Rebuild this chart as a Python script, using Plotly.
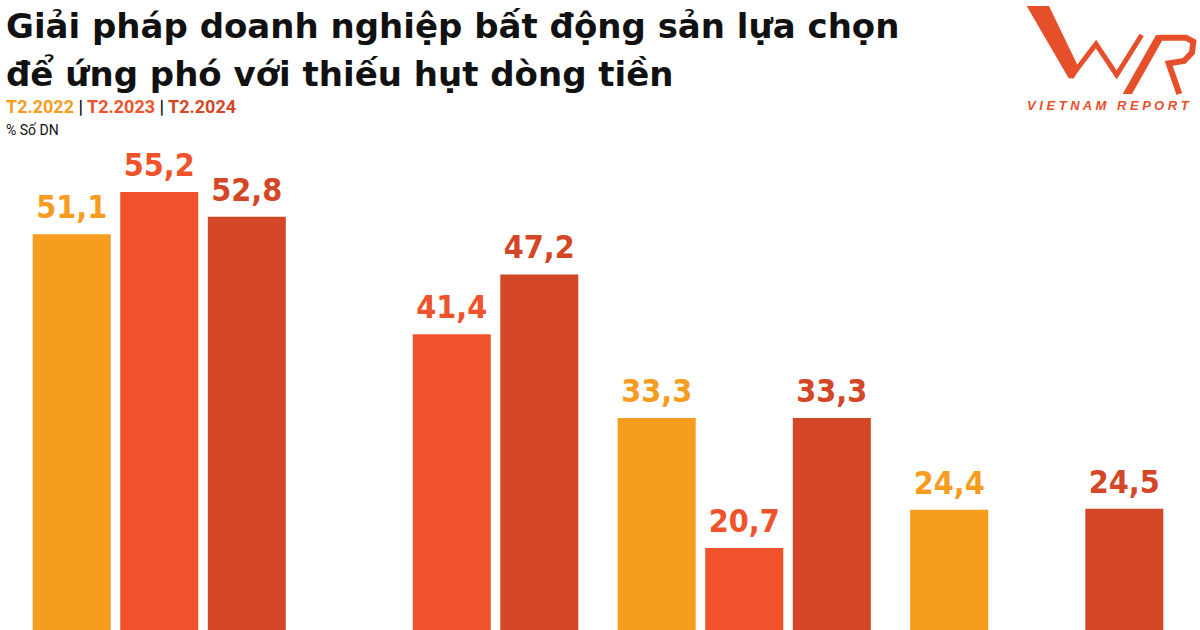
import plotly.graph_objects as go

# ---------------- data ----------------
categories = ["Giải pháp 1", "Giải pháp 2", "Giải pháp 3", "Giải pháp 4"]
series_names = ["T2.2022", "T2.2023", "T2.2024"]
v2022 = [51.1, 9.0, 33.3, 24.4]
v2023 = [55.2, 41.4, 20.7, None]
v2024 = [52.8, 47.2, 33.3, 24.5]
series_values = [v2022, v2023, v2024]
series_colors = ["#F69C1F", "#F0532B", "#D34726"]
title_lines = ["Giải pháp doanh nghiệp bất động sản lựa chọn", "để ứng phó với thiếu hụt dòng tiền"]
unit_label = "% Số DN"
logo_text = "VIETNAM REPORT"

# ---------------- layout constants ----------------
W, H = 1200, 630
ML, MR, MT, MB = 13, 17, 150, 0
PW, PH = W - ML - MR, H - MT - MB
Y_MIN, Y_MAX = 12.75, 59.26
BARGAP, BARGROUPGAP = 0.102, 0.109
LABEL_GAP_PX = 8
px_per_unit = PH / (Y_MAX - Y_MIN)
d = LABEL_GAP_PX / px_per_unit

def X(px):
    return (px - ML) / PW

def Y(py):
    return (H - MB - py) / PH

fig = go.Figure()
xs = list(range(len(categories)))
for name, vals, col in zip(series_names, series_values, series_colors):
    fig.add_trace(go.Bar(
        x=xs, y=vals, name=name, marker=dict(color=col, line=dict(width=0)),
        customdata=categories, hovertemplate="%{customdata}: %{y:.1f}<extra>" + name + "</extra>",
        showlegend=False,
    ))

slot = (1 - BARGAP) / len(series_names)
for k, (name, vals, col) in enumerate(zip(series_names, series_values, series_colors)):
    px_ = [i + (k - 1) * slot for i, v in zip(xs, vals) if v is not None]
    py_ = [v for v in vals if v is not None]
    fig.add_trace(go.Scatter(
        x=px_, y=py_, mode="text",
        text=["<b>" + f"{v:.1f}".replace(".", ",") + "</b>" for v in py_],
        textposition="top center",
        textfont=dict(family="DejaVu Sans Condensed, sans-serif", size=32, color=col),
        yaxis="y2", cliponaxis=False, showlegend=False, hoverinfo="skip",
    ))

TF = "DejaVu Sans, sans-serif"
SF = "Roboto, sans-serif"
ann = []
ann.append(dict(text="<b>" + title_lines[0] + "</b>", x=X(4), y=Y(4),
                xref="paper", yref="paper", xanchor="left", yanchor="top", showarrow=False,
                font=dict(family=TF, size=34, color="#111111")))
ann.append(dict(text="<b>" + title_lines[1] + "</b>", x=X(4), y=Y(52),
                xref="paper", yref="paper", xanchor="left", yanchor="top", showarrow=False,
                font=dict(family=TF, size=34, color="#111111")))
sub = (f"<b><span style='color:{series_colors[0]}'>{series_names[0]}</span> | "
       f"<span style='color:{series_colors[1]}'>{series_names[1]}</span> | "
       f"<span style='color:{series_colors[2]}'>{series_names[2]}</span></b>")
ann.append(dict(text=sub, x=X(4), y=Y(94), xref="paper", yref="paper",
                xanchor="left", yanchor="top", showarrow=False,
                font=dict(family=SF, size=18, color="#111111")))
ann.append(dict(text=unit_label, x=X(4), y=Y(120), xref="paper", yref="paper",
                xanchor="left", yanchor="top", showarrow=False,
                font=dict(family=SF, size=14, color="#111111")))
ann.append(dict(text="<b><i>" + " ".join(logo_text) + "</i></b>",
                x=X(1108), y=Y(105), xref="paper", yref="paper", xanchor="center",
                yanchor="middle", showarrow=False,
                font=dict(family="Liberation Sans, sans-serif", size=13, color="#E5502A")))

logo = "#E5502A"
def path(pts, close=True):
    s = "M " + " L ".join(f"{X(px):.5f},{Y(py):.5f}" for px, py in pts)
    return s + (" Z" if close else "")

def z(zx, zy):
    return (980 + zx / 3, zy / 3)

shapes = []
shapes.append(dict(type="path", xref="paper", yref="paper",
                   path=path([z(140, 18), z(207, 18), z(297, 205), z(282, 235), z(266, 235)]),
                   fillcolor=logo, line=dict(width=0)))
shapes.append(dict(type="path", xref="paper", yref="paper",
                   path=path([z(272, 232), z(348, 132), z(410, 225), z(485, 105)], close=False),
                   fillcolor="rgba(0,0,0,0)", line=dict(color=logo, width=5)))
shapes.append(dict(type="path", xref="paper", yref="paper",
                   path=path([z(428, 282), z(456, 282), z(556, 105), z(528, 105)]),
                   fillcolor=logo, line=dict(width=0)))
shapes.append(dict(type="path", xref="paper", yref="paper",
                   path=path([z(540, 113), z(618, 113), z(640, 125), z(636, 158), z(612, 183),
                              z(566, 190), z(598, 282)], close=False),
                   fillcolor="rgba(0,0,0,0)", line=dict(color=logo, width=6)))

fig.update_layout(
    width=W, height=H, margin=dict(l=ML, r=MR, t=MT, b=MB, pad=0),
    paper_bgcolor="white", plot_bgcolor="white",
    barmode="group", bargap=BARGAP, bargroupgap=BARGROUPGAP,
    separators=",.",
    xaxis=dict(range=[-0.5, 3.5], visible=False, fixedrange=True),
    yaxis=dict(range=[Y_MIN, Y_MAX], visible=False, fixedrange=True),
    yaxis2=dict(range=[Y_MIN - d, Y_MAX - d], overlaying="y", visible=False, fixedrange=True),
    annotations=ann, shapes=shapes, showlegend=False,
)
fig.write_html("out.html", config={"displayModeBar": False},
               post_script="document.body.style.margin='0';document.body.style.overflow='hidden';")
